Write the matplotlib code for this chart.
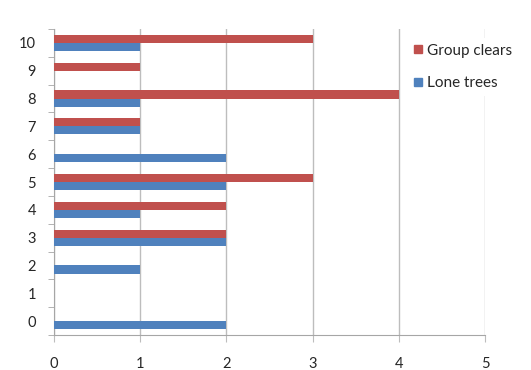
import matplotlib
matplotlib.use("Agg")
import matplotlib.pyplot as plt
from matplotlib.lines import Line2D
import numpy as np

categories = [0, 1, 2, 3, 4, 5, 6, 7, 8, 9, 10]
group_clears = [0, 0, 0, 2, 2, 3, 0, 1, 4, 1, 3]
lone_trees = [2, 0, 1, 2, 1, 2, 2, 1, 1, 0, 1]
x_ticks = [0, 1, 2, 3, 4, 5]

RED = "#C0504D"
BLUE = "#4F81BD"
GRID = "#BDBDBD"

plt.rcParams["font.family"] = ["Lato", "DejaVu Sans"]

W, H = 531, 370
fig = plt.figure(figsize=(W / 100, H / 100), dpi=100)
ax = fig.add_axes([54 / W, (H - 335) / H, (485 - 54) / W, (335 - 29) / H])

y = np.array(categories, dtype=float)
bh = 0.29
ax.barh(y + bh / 2, group_clears, height=bh, color=RED, linewidth=0, zorder=3)
ax.barh(y - bh / 2, lone_trees, height=bh, color=BLUE, linewidth=0, zorder=3)

ax.set_xlim(0, 5)
ax.set_ylim(-0.5, 10.5)
ax.set_xticks(x_ticks)
ax.set_xticklabels([str(t) for t in x_ticks])
ax.set_yticks(categories)
ax.set_yticklabels([str(c) for c in categories])
ax.set_yticks(np.arange(-0.5, 11, 1), minor=True)

ax.xaxis.grid(True, color=GRID, linewidth=1.0, zorder=0)
ax.set_axisbelow(True)

for side in ("top", "right"):
    ax.spines[side].set_visible(False)
ax.spines["left"].set_color("#A6A6A6")
ax.spines["bottom"].set_color("#A6A6A6")

ax.tick_params(axis="y", which="major", length=0, pad=13, labelsize=10.5,
               labelcolor="#262626")
ax.tick_params(axis="y", which="minor", length=4, color="#A6A6A6", direction="out")
ax.tick_params(axis="x", which="major", length=5, color=GRID, direction="out",
               pad=11, labelsize=10.5, labelcolor="#262626")

handles = [
    Line2D([], [], marker="s", linestyle="none", markersize=6,
           markerfacecolor=RED, markeredgecolor=RED, label="Group clears"),
    Line2D([], [], marker="s", linestyle="none", markersize=6,
           markerfacecolor=BLUE, markeredgecolor=BLUE, label="Lone trees"),
]
leg = fig.legend(handles=handles, loc="upper left",
                 bbox_to_anchor=(400 / W, 1 - 30 / H), frameon=True,
                 facecolor="white", edgecolor="none", framealpha=1.0,
                 fontsize=11, handlelength=0.6, handletextpad=0.25,
                 labelspacing=1.2, borderpad=0.4)
for t in leg.get_texts():
    t.set_color("#262626")

fig.savefig("out.png", dpi=100)
